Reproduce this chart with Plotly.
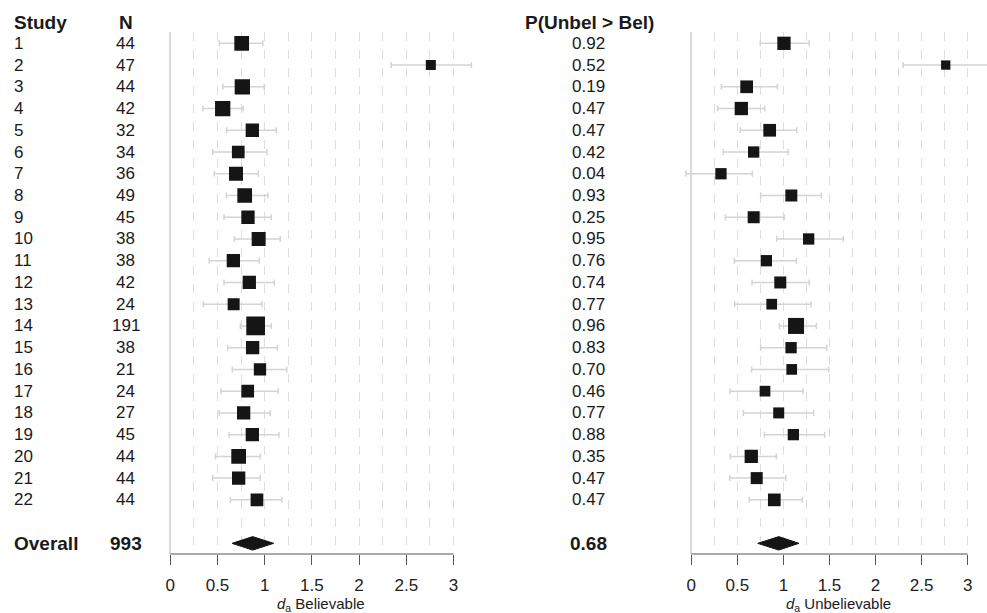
import plotly.graph_objects as go

# ---------------- data ----------------
studies = [str(i) for i in range(1, 23)]
n_obs = [44, 47, 44, 42, 32, 34, 36, 49, 45, 38, 38, 42, 24, 191, 38, 21, 24, 27, 45, 44, 44, 44]
p_unbel_gt_bel = ["0.92", "0.52", "0.19", "0.47", "0.47", "0.42", "0.04", "0.93", "0.25", "0.95", "0.76",
                  "0.74", "0.77", "0.96", "0.83", "0.70", "0.46", "0.77", "0.88", "0.35", "0.47", "0.47"]

bel_est = [0.756, 2.76, 0.763, 0.555, 0.869, 0.72, 0.696, 0.788, 0.823, 0.936, 0.668,
           0.837, 0.671, 0.904, 0.872, 0.95, 0.82, 0.777, 0.869, 0.724, 0.724, 0.918]
bel_lo = [0.52, 2.34, 0.558, 0.346, 0.597, 0.449, 0.466, 0.594, 0.569, 0.678, 0.413,
          0.569, 0.35, 0.742, 0.608, 0.657, 0.537, 0.519, 0.622, 0.48, 0.449, 0.636]
bel_hi = [0.98, 3.19, 0.996, 0.77, 1.123, 1.024, 0.932, 1.035, 1.07, 1.165, 0.943,
          1.102, 0.971, 1.07, 1.134, 1.233, 1.144, 1.059, 1.151, 0.953, 0.953, 1.183]
bel_weight = [14.7, 10, 15.3, 15.3, 13.3, 12.7, 14, 14.7, 13.3, 14, 13.3,
              13.3, 12, 18.7, 13.3, 12.3, 12.7, 13.3, 13.3, 14.7, 13.3, 12.7]

unbel_est = [1.006, 2.762, 0.601, 0.543, 0.851, 0.677, 0.322, 1.086, 0.677, 1.274, 0.815,
             0.966, 0.873, 1.137, 1.083, 1.09, 0.80, 0.949, 1.108, 0.651, 0.71, 0.901]
unbel_lo = [0.749, 2.30, 0.326, 0.286, 0.532, 0.347, -0.058, 0.753, 0.369, 0.927, 0.467,
            0.659, 0.471, 0.956, 0.753, 0.655, 0.42, 0.565, 0.793, 0.423, 0.417, 0.63]
unbel_hi = [1.281, 3.22, 0.934, 0.797, 1.144, 1.053, 0.662, 1.412, 1.01, 1.65, 1.14,
            1.281, 1.30, 1.357, 1.47, 1.492, 1.213, 1.329, 1.448, 0.923, 1.025, 1.205]
unbel_weight = [13.3, 9.3, 12.7, 13.3, 12.7, 11.3, 11.3, 12, 12, 11.3, 11.3,
                12, 10.7, 16, 11.3, 10.7, 10.7, 11, 11.3, 13.3, 12, 12.7]

overall_label = "Overall"
overall_n = 993
overall_p = "0.68"
overall_bel = (0.654, 0.873, 1.095)     # lo, est, hi
overall_unbel = (0.721, 0.949, 1.169)

tick_vals = [0, 0.5, 1, 1.5, 2, 2.5, 3]
tick_text = ["0", "0.5", "1", "1.5", "2", "2.5", "3"]

# ---------------- layout constants ----------------
W, H = 987, 613
FONT = "Liberation Sans, Arial, Helvetica, sans-serif"
rows = list(range(1, 23))
overall_row = 24
y_range = [24.49, 0.48]
diamond_half = 0.31
PLOT_TOP, PLOT_BOTTOM = 32, 554.3
plot_h = PLOT_BOTTOM - PLOT_TOP

fig = go.Figure()


def add_panel(est, lo, hi, weight, ov, xa):
    fig.add_trace(go.Scatter(
        x=est, y=rows, mode="markers", xaxis=xa, yaxis="y",
        marker=dict(symbol="square", size=weight, color="#151515", opacity=1, line=dict(width=0)),
        error_x=dict(type="data", symmetric=False,
                     array=[h - e for h, e in zip(hi, est)],
                     arrayminus=[e - l for e, l in zip(est, lo)],
                     color="#d4d4d4", thickness=1.5, width=3),
        showlegend=False, hoverinfo="skip"))
    lo_o, e_o, hi_o = ov
    fig.add_trace(go.Scatter(
        x=[lo_o, e_o, hi_o, e_o, lo_o],
        y=[overall_row, overall_row - diamond_half, overall_row, overall_row + diamond_half, overall_row],
        mode="lines", fill="toself", fillcolor="#151515", line=dict(color="#151515", width=1),
        xaxis=xa, yaxis="y", showlegend=False, hoverinfo="skip"))


add_panel(bel_est, bel_lo, bel_hi, bel_weight, overall_bel, "x")
add_panel(unbel_est, unbel_lo, unbel_hi, unbel_weight, overall_unbel, "x2")

common_x = dict(
    tickmode="array", tickvals=tick_vals, ticktext=tick_text,
    ticks="outside", ticklen=10, tickwidth=1, tickcolor="#555555",
    ticklabelstandoff=6,
    tickfont=dict(family=FONT, size=17, color="#222222"),
    showline=False,
    showgrid=True, gridcolor="#dedede", gridwidth=1, griddash="dash",
    minor=dict(dtick=0.25, tick0=0, showgrid=True, gridcolor="#dedede", griddash="dash", ticks=""),
    zeroline=True, zerolinecolor="#dadada", zerolinewidth=1.5,
    fixedrange=True,
)

left_range = [-0.1, 3.24]
right_range = [-0.1, 3.21]
left_px = (170.3 - 0.1 * 94.4, 170.3 + 3.24 * 94.4)
right_px = (691.3 - 0.1 * 92.1, 987.0)

fig.update_layout(
    width=W, height=H,
    margin=dict(l=0, r=0, t=PLOT_TOP, b=H - PLOT_BOTTOM),
    paper_bgcolor="white", plot_bgcolor="white",
    font=dict(family=FONT, size=17, color="#1a1a1a"),
    xaxis=dict(domain=[left_px[0] / W, left_px[1] / W], range=left_range, anchor="y", **common_x),
    xaxis2=dict(domain=[right_px[0] / W, min(right_px[1] / W, 1.0)], range=right_range, anchor="y", **common_x),
    yaxis=dict(range=y_range, visible=False, fixedrange=True),
)

# axis lines from 0 to 3
for xr in ("x", "x2"):
    fig.add_shape(type="line", xref=xr, yref="paper", x0=0, x1=3, y0=0, y1=0,
                  line=dict(color="#555555", width=1.2))

ann = []


def txt(x_px, y, text, anchor, size=17, bold=False, yref="y"):
    ann.append(dict(x=x_px / W, xref="paper", y=y, yref=yref, text=("<b>%s</b>" % text) if bold else text,
                    showarrow=False, xanchor=anchor, yanchor="middle",
                    font=dict(family=FONT, size=size, color="#1a1a1a")))


# headers (row 0, above the plotting area)
header_y = 1 + (PLOT_TOP - 22.0) / plot_h
txt(12, header_y, "Study", "left", 19, True, "paper")
txt(126, header_y, "N", "center", 19, True, "paper")
txt(589, header_y, "P(Unbel &gt; Bel)", "center", 19, True, "paper")

for r, s, n, p in zip(rows, studies, n_obs, p_unbel_gt_bel):
    txt(12, r, s, "left")
    txt(126, r, str(n), "center")
    txt(588, r, p, "center")

txt(12, overall_row, overall_label, "left", 19, True)
txt(126, overall_row, str(overall_n), "center", 19, True)
txt(588, overall_row, overall_p, "center", 19, True)

# axis titles
for xr, label in (("x", "Believable"), ("x2", "Unbelievable")):
    ann.append(dict(x=1.6, xref=xr, y=-(604.5 - PLOT_BOTTOM) / plot_h, yref="paper",
                    text="<i>d</i><sub>a</sub> " + label, showarrow=False,
                    xanchor="center", yanchor="middle",
                    font=dict(family=FONT, size=15, color="#1a1a1a")))

fig.update_layout(annotations=ann)

fig.write_html("out.html", config={"displayModeBar": False},
               post_script="document.body.style.margin='0px';document.body.style.overflow='hidden';")
